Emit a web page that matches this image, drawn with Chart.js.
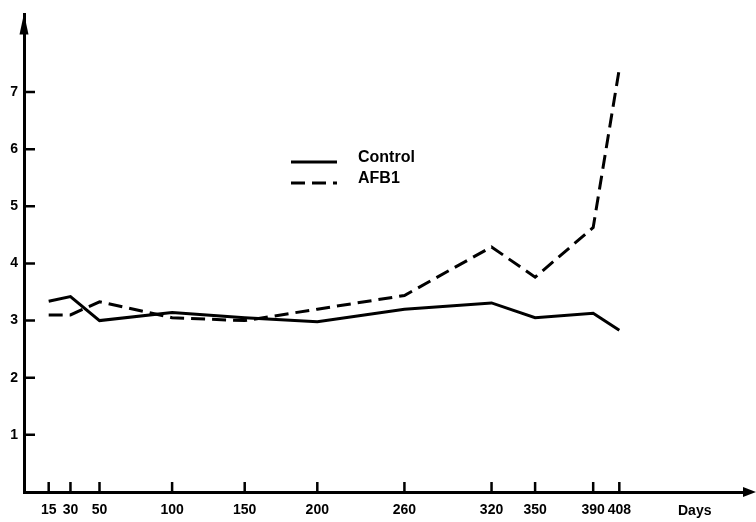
<!DOCTYPE html>
<html>
<head>
<meta charset="utf-8">
<script src="https://cdn.jsdelivr.net/npm/chart.js@4.4.1/dist/chart.umd.min.js"></script>
<style>
  body { margin: 0; background: #fff; }
  canvas { display: block; }
</style>
</head>
<body>
<canvas id="chart" width="756" height="522"></canvas>
<script>
const days = [15, 30, 50, 100, 150, 200, 260, 320, 350, 390, 408];
const control = [3.34, 3.42, 3.0, 3.14, 3.05, 2.98, 3.2, 3.31, 3.05, 3.13, 2.83];
const afb1 = [3.1, 3.1, 3.33, 3.05, 3.0, 3.2, 3.44, 4.29, 3.76, 4.63, 7.41];
const yTicks = [1, 2, 3, 4, 5, 6, 7];

const FONT = "'Liberation Sans', Arial, sans-serif";
const ink = '#000';

// inner tick marks, arrow heads, legend, "Days"
const decor = {
  id: 'decor',
  afterDraw(chart) {
    const ctx = chart.ctx;
    const xs = chart.scales.x, ys = chart.scales.y;
    const a = chart.chartArea;
    ctx.save();
    ctx.strokeStyle = ink;
    ctx.fillStyle = ink;
    ctx.lineWidth = 2.5;
    ctx.beginPath();
    days.forEach(d => {
      const px = xs.getPixelForValue(d);
      ctx.moveTo(px, a.bottom);
      ctx.lineTo(px, a.bottom - 10);
    });
    yTicks.forEach(v => {
      const py = ys.getPixelForValue(v);
      ctx.moveTo(a.left, py);
      ctx.lineTo(a.left + 11, py);
    });
    ctx.stroke();

    // arrows
    ctx.beginPath();
    ctx.moveTo(a.left, a.top - 1);
    ctx.lineTo(a.left - 4.5, a.top + 20);
    ctx.lineTo(a.left + 4.5, a.top + 20);
    ctx.closePath();
    ctx.fill();
    ctx.beginPath();
    ctx.moveTo(a.right + 6, a.bottom);
    ctx.lineTo(a.right - 7, a.bottom - 5);
    ctx.lineTo(a.right - 7, a.bottom + 5);
    ctx.closePath();
    ctx.fill();

    ctx.font = 'bold 14px ' + FONT;
    ctx.textBaseline = 'middle';
    ctx.textAlign = 'left';
    ctx.fillText('Days', a.right - 72, a.bottom + 19);

    // legend
    const items = chart.data.datasets;
    items.forEach((ds, i) => {
      const y = 162 + i * 21;
      ctx.lineWidth = 3;
      ctx.setLineDash(ds.borderDash || []);
      ctx.beginPath();
      ctx.moveTo(291, y);
      ctx.lineTo(337, y);
      ctx.stroke();
      ctx.setLineDash([]);
      ctx.font = 'bold 16px ' + FONT;
      ctx.fillText(ds.label, 358, y - 4);
    });
    ctx.restore();
  }
};

new Chart(document.getElementById('chart'), {
  type: 'line',
  data: {
    datasets: [
      {
        label: 'Control',
        data: days.map((d, i) => ({x: d, y: control[i]})),
        borderColor: ink,
        borderWidth: 3,
        pointRadius: 0,
        tension: 0
      },
      {
        label: 'AFB1',
        data: days.map((d, i) => ({x: d, y: afb1[i]})),
        borderColor: ink,
        borderWidth: 3,
        borderDash: [14, 7],
        pointRadius: 0,
        tension: 0
      }
    ]
  },
  options: {
    responsive: false,
    animation: false,
    layout: { padding: { top: 7, right: 6, left: 0, bottom: 0 } },
    plugins: { legend: { display: false }, tooltip: { enabled: false } },
    scales: {
      x: {
        type: 'linear',
        min: -2,
        max: 498,
        afterBuildTicks: s => { s.ticks = days.map(v => ({value: v})); },
        afterFit: s => { s.height = 30; },
        grid: { drawOnChartArea: false, drawTicks: false },
        border: { display: true, color: ink, width: 3 },
        ticks: { color: ink, padding: 10, maxRotation: 0, autoSkip: false,
                 font: { family: FONT, size: 14, weight: 'bold' } }
      },
      y: {
        min: 0,
        max: 8.36,
        afterBuildTicks: s => { s.ticks = yTicks.map(v => ({value: v})); },
        afterFit: s => { s.width = 24; },
        grid: { drawOnChartArea: false, drawTicks: false },
        border: { display: true, color: ink, width: 3 },
        ticks: { color: ink, padding: 6,
                 font: { family: FONT, size: 14, weight: 'bold' } }
      }
    }
  },
  plugins: [decor]
});
</script>
</body>
</html>
